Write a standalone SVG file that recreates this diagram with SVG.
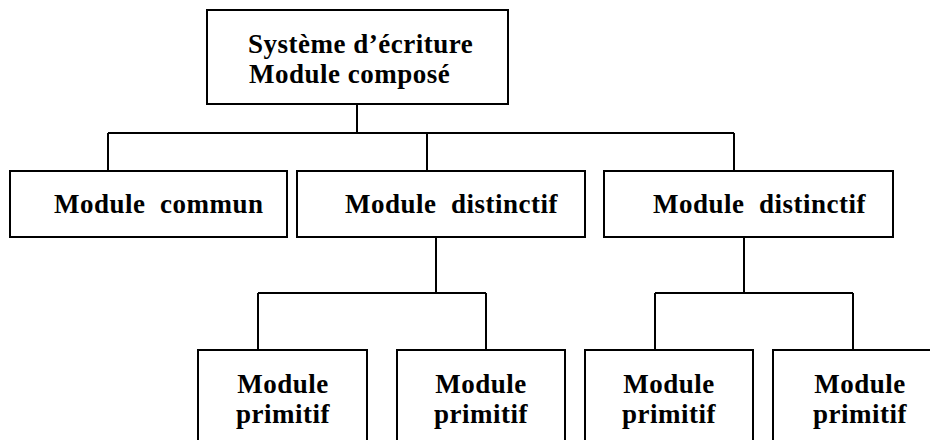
<svg xmlns="http://www.w3.org/2000/svg" width="930" height="440" viewBox="0 0 930 440">
<style>
.box{fill:#fff;stroke:#000;stroke-width:2}
.t{font-family:'Liberation Serif','Times New Roman','DejaVu Serif',serif;font-weight:700;font-size:27px;letter-spacing:0.5px;fill:#000}
.c{text-anchor:middle}
.ln{fill:none;stroke:#000;stroke-width:2}
</style>
<rect width="930" height="440" fill="#fff"/>
<g id="connectors">
<path class="ln" d="M357,104 V133 M108,133 H734 M108,133 V171 M427,133 V171 M734,133 V171"/>
<path class="ln" d="M436,237 V293 M258,293 H486 M258,293 V350 M486,293 V350"/>
<path class="ln" d="M744,237 V293 M655,293 H853 M655,293 V350 M853,293 V350"/>
</g>
<g id="root">
<rect class="box" x="207" y="10" width="301" height="94"/>
<text class="t" font-family="Liberation Serif, serif" x="248" y="53" xml:space="preserve">Système d’écriture</text>
<text class="t" font-family="Liberation Serif, serif" x="249" y="83" xml:space="preserve">Module composé</text>
</g>
<g id="commun">
<rect class="box" x="10" y="171" width="277" height="66"/>
<text class="t" x="54" y="213" xml:space="preserve">Module  commun</text>
</g>
<g id="distinctif1">
<rect class="box" x="297" y="171" width="288" height="66"/>
<text class="t" x="345" y="213" xml:space="preserve">Module  distinctif</text>
</g>
<g id="distinctif2">
<rect class="box" x="604" y="171" width="289" height="66"/>
<text class="t" x="653" y="213" xml:space="preserve">Module  distinctif</text>
</g>
<g id="primitif1">
<rect class="box" x="198" y="350" width="169" height="100"/>
<text class="t c" x="283" y="393">Module</text>
<text class="t c" x="283" y="423">primitif</text>
</g>
<g id="primitif2">
<rect class="box" x="397" y="350" width="168" height="100"/>
<text class="t c" x="481" y="393">Module</text>
<text class="t c" x="481" y="423">primitif</text>
</g>
<g id="primitif3">
<rect class="box" x="585" y="350" width="168" height="100"/>
<text class="t c" x="669" y="393">Module</text>
<text class="t c" x="669" y="423">primitif</text>
</g>
<g id="primitif4">
<rect class="box" x="773" y="350" width="168" height="100"/>
<text class="t c" x="860" y="393">Module</text>
<text class="t c" x="860" y="423">primitif</text>
</g>
</svg>
